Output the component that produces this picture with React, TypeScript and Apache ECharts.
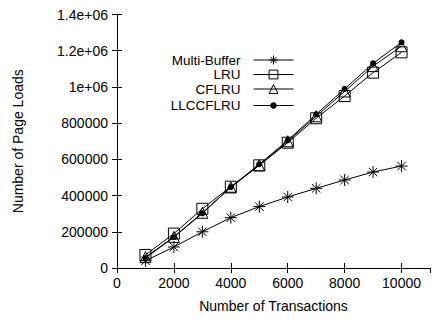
import React, { useEffect, useRef } from "react";
import * as echarts from "echarts";

// Transactions run (x) and page loads per buffer policy (y)
const transactions = [1000, 2000, 3000, 4000, 5000, 6000, 7000, 8000, 9000, 10000];
const multiBuffer = [40000, 116000, 200000, 278000, 339000, 392000, 440000, 486000, 530000, 563000];
const lru = [72000, 190000, 327000, 449000, 567000, 692000, 827000, 950000, 1079000, 1191000];
const cflru = [60000, 172000, 305000, 445000, 567000, 700000, 838000, 975000, 1115000, 1225000];
const llccflru = [55000, 170000, 302000, 447000, 573000, 705000, 849000, 989000, 1130000, 1246000];

const seriesNames = ["Multi-Buffer", "LRU", "CFLRU", "LLCCFLRU"];
const yTickLabels: Record<number, string> = {
  0: "0",
  200000: "200000",
  400000: "400000",
  600000: "600000",
  800000: "800000",
  1000000: "1e+06",
  1200000: "1.2e+06",
  1400000: "1.4e+06",
};

const FONT = "'Liberation Sans', Arial, Helvetica, sans-serif";
const ASTERISK = "path://M0,5L10,5M5,0L5,10M1.5,1.5L8.5,8.5M1.5,8.5L8.5,1.5";

export default function App() {
  const ref = useRef<HTMLDivElement>(null);

  useEffect(() => {
    if (!ref.current) return;
    const chart = echarts.init(ref.current, undefined, { renderer: "svg" });

    const pairs = (ys: number[]) => transactions.map((x, i) => [x, ys[i]]);
    const lineStyle = { color: "#000", width: 1 };

    const series: any[] = [
      {
        name: seriesNames[0],
        type: "line",
        data: pairs(multiBuffer),
        symbol: ASTERISK,
        symbolSize: 12,
        lineStyle,
        itemStyle: { color: "none", borderColor: "#000", borderWidth: 1 },
      },
      {
        name: seriesNames[1],
        type: "line",
        data: pairs(lru),
        symbol: "rect",
        symbolSize: 11,
        lineStyle,
        itemStyle: { color: "none", borderColor: "#000", borderWidth: 1 },
      },
      {
        name: seriesNames[2],
        type: "line",
        data: pairs(cflru),
        symbol: "triangle",
        symbolSize: 11,
        lineStyle,
        itemStyle: { color: "none", borderColor: "#000", borderWidth: 1 },
      },
      {
        name: seriesNames[3],
        type: "line",
        data: pairs(llccflru),
        symbol: "circle",
        symbolSize: 6,
        lineStyle,
        itemStyle: { color: "#000", borderColor: "#000", borderWidth: 0 },
      },
    ].map((s) => ({ ...s, silent: true, z: 3 }));

    // one legend block per row so every key line ends at the same x
    const rowCenters = [58.5, 73, 87.5, 102];
    const iconHeights = [11, 11, 11, 7];
    const legend = seriesNames.map((name, i) => ({
      data: [name],
      orient: "vertical",
      align: "right",
      right: 138,
      top: rowCenters[i] - iconHeights[i] / 2,
      padding: 0,
      itemGap: 0,
      itemWidth: 40,
      itemHeight: iconHeights[i],
      selectedMode: false,
      itemStyle: { borderWidth: 1 },
      lineStyle: { width: 1 },
      textStyle: {
        fontSize: 13.5,
        lineHeight: 12,
        fontFamily: FONT,
        color: "#000",
        padding: [0, 8, 0, 0],
      },
    }));

    const tick = { show: true, inside: true, length: 5, lineStyle: { color: "#000", width: 1 } };
    const axisLine = { show: true, lineStyle: { color: "#000", width: 1 } };
    const labelStyle = { fontSize: 14, fontFamily: FONT, color: "#000" };

    chart.setOption({
      animation: false,
      backgroundColor: "#fff",
      grid: { left: 117, right: 2, top: 14.5, bottom: 54 },
      legend,
      xAxis: [
        {
          type: "value",
          min: 0,
          max: 11000,
          interval: 2000,
          position: "bottom",
          axisLine,
          axisTick: tick,
          splitLine: { show: false },
          axisLabel: {
            ...labelStyle,
            margin: 8,
            showMaxLabel: false,
            formatter: (v: number) => String(v),
          },
          name: "Number of Transactions",
          nameLocation: "middle",
          nameGap: 31,
          nameTextStyle: { ...labelStyle },
        },
        {
          type: "value",
          min: 0,
          max: 11000,
          interval: 2000,
          position: "top",
          axisLine,
          axisTick: tick,
          splitLine: { show: false },
          axisLabel: { show: false },
        },
      ],
      yAxis: [
        {
          type: "value",
          min: 0,
          max: 1400000,
          interval: 200000,
          position: "left",
          axisLine,
          axisTick: tick,
          splitLine: { show: false },
          axisLabel: {
            ...labelStyle,
            margin: 9,
            formatter: (v: number) => yTickLabels[v] ?? String(v),
          },
          name: "Number of Page Loads",
          nameLocation: "middle",
          nameGap: 92,
          nameTextStyle: { ...labelStyle },
        },
        {
          type: "value",
          min: 0,
          max: 1400000,
          interval: 200000,
          position: "right",
          axisLine,
          axisTick: tick,
          splitLine: { show: false },
          axisLabel: { show: false },
        },
      ],
      series,
    });

    return () => chart.dispose();
  }, []);

  return <div ref={ref} style={{ width: 432, height: 322, position: "absolute", left: 0, top: 0 }} />;
}
